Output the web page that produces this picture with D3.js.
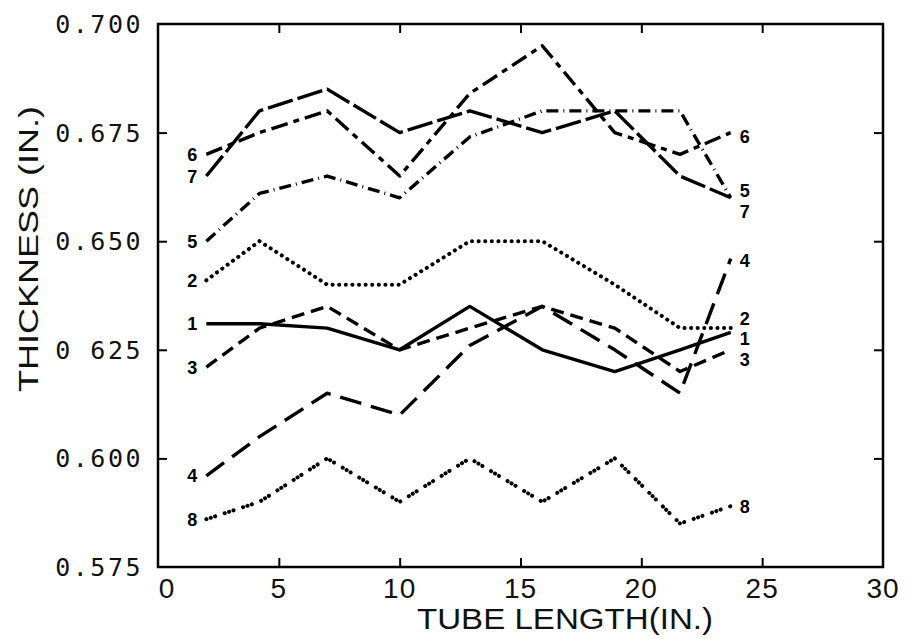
<!DOCTYPE html>
<html>
<head>
<meta charset="utf-8">
<script src="https://cdn.jsdelivr.net/npm/d3@7"></script>
<style>
  html, body { margin: 0; padding: 0; background: #fff; }
  svg { display: block; }
</style>
</head>
<body>
<svg id="chart" width="907" height="639"></svg>
<script>
// ---- data ----
const tubeLength = [2, 4.2, 7, 10, 12.9, 15.9, 18.9, 21.6, 23.7];
const seriesNames = ["1", "2", "3", "4", "5", "6", "7", "8"];
const s1 = [0.631, 0.631, 0.630, 0.625, 0.635, 0.625, 0.620, 0.625, 0.629];
const s2 = [0.641, 0.650, 0.640, 0.640, 0.650, 0.650, 0.640, 0.630, 0.630];
const s3 = [0.621, 0.630, 0.635, 0.625, 0.630, 0.635, 0.630, 0.620, 0.625];
const s4 = [0.596, 0.605, 0.615, 0.610, 0.626, 0.635, 0.625, 0.615, 0.646];
const s5 = [0.650, 0.661, 0.665, 0.660, 0.674, 0.680, 0.680, 0.680, 0.660];
const s6 = [0.670, 0.675, 0.680, 0.665, 0.684, 0.695, 0.675, 0.670, 0.675];
const s7 = [0.665, 0.680, 0.685, 0.675, 0.680, 0.675, 0.680, 0.665, 0.660];
const s8 = [0.586, 0.590, 0.600, 0.590, 0.600, 0.590, 0.600, 0.585, 0.589];
const xTicks = [0, 5, 10, 15, 20, 25, 30];
const xTickLabels = ["0", "5", "10", "15", "20", "25", "30"];
const yTicks = [0.575, 0.600, 0.625, 0.650, 0.675, 0.700];
const yTickLabels = ["0.575", "0.600", "0 625", "0.650", "0.675", "0.700"];
const xTitle = "TUBE LENGTH(IN.)";
const yTitle = "THICKNESS (IN.)";

// ---- styles ----
const dashes = {
  "1": null,
  "2": "0.1 6.5",
  "3": "13 7",
  "4": "22 10",
  "5": "12 5 1 5",
  "6": "17 6 6 6",
  "7": "26 5",
  "8": "0.1 4.5 0.1 4.5 0.1 10"
};
// label nudges [left dy, right dy]
const nudge = {
  "1": [0, 6], "2": [0, -10], "3": [0, 10], "4": [0, 2],
  "5": [0, -7], "6": [0, 4], "7": [0, 14], "8": [0, 0]
};

const allSeries = [s1, s2, s3, s4, s5, s6, s7, s8];

const margin = { left: 158, right: 883, top: 24, bottom: 567 };
const x = d3.scaleLinear().domain([0, 30]).range([margin.left, margin.right]);
const y = d3.scaleLinear().domain([0.575, 0.700]).range([margin.bottom, margin.top]);

const svg = d3.select("#chart");

// frame
svg.append("rect")
  .attr("x", margin.left).attr("y", margin.top)
  .attr("width", margin.right - margin.left)
  .attr("height", margin.bottom - margin.top)
  .attr("fill", "none").attr("stroke", "#000").attr("stroke-width", 2.5);

// axes with inward ticks
const tickLen = 9;
const xb = svg.append("g").attr("transform", `translate(0,${margin.bottom})`)
  .call(d3.axisBottom(x).tickValues(xTicks.slice(1, -1)).tickSize(-tickLen).tickFormat(""));
const xt = svg.append("g").attr("transform", `translate(0,${margin.top})`)
  .call(d3.axisTop(x).tickValues(xTicks.slice(1, -1)).tickSize(-tickLen).tickFormat(""));
const yl = svg.append("g").attr("transform", `translate(${margin.left},0)`)
  .call(d3.axisLeft(y).tickValues(yTicks.slice(1, -1)).tickSize(-tickLen).tickFormat(""));
const yr = svg.append("g").attr("transform", `translate(${margin.right},0)`)
  .call(d3.axisRight(y).tickValues(yTicks.slice(1, -1)).tickSize(-tickLen).tickFormat(""));
[xb, xt, yl, yr].forEach(g => {
  g.select(".domain").remove();
  g.selectAll(".tick line").attr("stroke", "#000").attr("stroke-width", 2);
});

// x tick labels
svg.append("g").selectAll("text")
  .data(xTicks)
  .join("text")
  .attr("x", (d, i) => x(d) + (i === 0 ? 9 : 0))
  .attr("y", 588)
  .attr("dy", "0.36em")
  .attr("text-anchor", "middle")
  .attr("font-family", "Liberation Sans, Arial, sans-serif")
  .attr("font-size", 28)
  .attr("letter-spacing", 1)
  .attr("fill", "#111")
  .text((d, i) => xTickLabels[i]);

// y tick labels
svg.append("g").selectAll("text")
  .data(yTicks)
  .join("text")
  .attr("x", 143)
  .attr("y", d => y(d))
  .attr("dy", "0.36em")
  .attr("text-anchor", "end")
  .attr("font-family", "DejaVu Sans Mono, monospace")
  .attr("font-size", 25)
  .attr("letter-spacing", 2.5)
  .attr("fill", "#111")
  .text((d, i) => yTickLabels[i]);

// axis titles
svg.append("text")
  .attr("x", 565).attr("y", 619)
  .attr("dy", "0.36em")
  .attr("text-anchor", "middle")
  .attr("font-family", "Liberation Sans, Arial, sans-serif")
  .attr("font-size", 29)
  .attr("textLength", 296)
  .attr("lengthAdjust", "spacingAndGlyphs")
  .attr("fill", "#111")
  .text(xTitle);

svg.append("text")
  .attr("transform", "translate(28,249) rotate(-90)")
  .attr("dy", "0.36em")
  .attr("text-anchor", "middle")
  .attr("font-family", "Liberation Sans, Arial, sans-serif")
  .attr("font-size", 27)
  .attr("textLength", 286)
  .attr("lengthAdjust", "spacingAndGlyphs")
  .attr("fill", "#111")
  .text(yTitle);

// lines
const line = d3.line().x((d, i) => x(tubeLength[i])).y(d => y(d));
const gl = svg.append("g");
allSeries.forEach((vals, k) => {
  const name = seriesNames[k];
  const dotted = (name === "2" || name === "8");
  const p = gl.append("path")
    .datum(vals)
    .attr("d", line)
    .attr("fill", "none")
    .attr("stroke", "#000")
    .attr("stroke-width", dotted ? 4 : 3.4)
    .attr("stroke-linejoin", "round")
    .attr("stroke-linecap", dotted ? "round" : "butt");
  if (dashes[name]) p.attr("stroke-dasharray", dashes[name]);
});

// series labels
const gLab = svg.append("g")
  .attr("font-family", "Liberation Sans, Arial, sans-serif")
  .attr("font-weight", "bold")
  .attr("font-size", 18)
  .attr("fill", "#000");
allSeries.forEach((vals, k) => {
  const name = seriesNames[k];
  gLab.append("text")
    .attr("x", x(tubeLength[0]) - 9)
    .attr("y", y(vals[0]) + nudge[name][0])
    .attr("dy", "0.36em")
    .attr("text-anchor", "end")
    .text(name);
  const n = vals.length - 1;
  gLab.append("text")
    .attr("x", x(tubeLength[n]) + 9)
    .attr("y", y(vals[n]) + nudge[name][1])
    .attr("dy", "0.36em")
    .attr("text-anchor", "start")
    .text(name);
});
</script>
</body>
</html>
